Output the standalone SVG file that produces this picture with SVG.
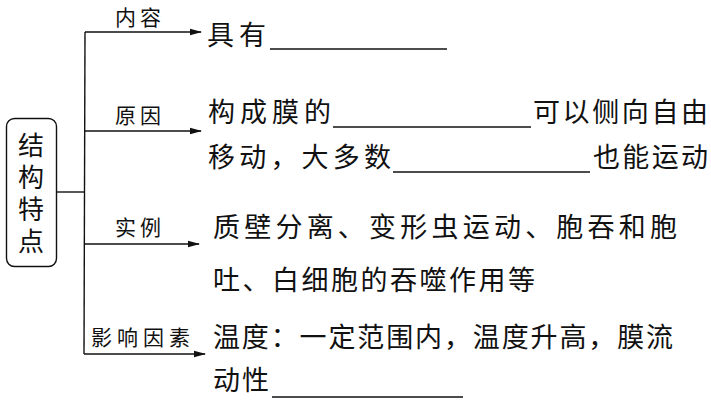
<svg xmlns="http://www.w3.org/2000/svg" width="711" height="401" viewBox="0 0 711 401">
<defs>
<marker id="arr" markerWidth="12" markerHeight="8" refX="11" refY="4" orient="auto" markerUnits="userSpaceOnUse">
<path d="M0,0.8 L12,4 L0,7.2 Z" fill="#111"/>
</marker>
<style>
text{font-family:"Noto Sans CJK SC","Noto Sans CJK JP",sans-serif;fill:#111}
.main{font-size:27px}
.lbl{font-size:21px;letter-spacing:4px}
.box{font-size:26px;letter-spacing:6px;writing-mode:vertical-rl}
.ln{stroke:#111;stroke-width:1.4;fill:none}
.ul{stroke:#111;stroke-width:1.5}
</style>
</defs>
<rect width="711" height="401" fill="#fff"/>
<g id="root">
<rect x="6.5" y="118.5" width="50" height="148" rx="8" ry="8" fill="none" stroke="#111" stroke-width="1.4"/>
<text class="box" x="31" y="132">结构特点</text>
</g>
<g id="connectors">
<line class="ln" x1="57" y1="192" x2="85" y2="192"/>
<line class="ln" x1="85" y1="32" x2="84" y2="354"/>
<line class="ln" x1="85" y1="32" x2="201" y2="32" marker-end="url(#arr)"/>
<line class="ln" x1="85" y1="131" x2="201" y2="131" marker-end="url(#arr)"/>
<line class="ln" x1="84" y1="244" x2="199" y2="244" marker-end="url(#arr)"/>
<line class="ln" x1="84" y1="354" x2="205" y2="354" marker-end="url(#arr)"/>
<text class="lbl" x="115" y="25">内容</text>
<text class="lbl" x="115" y="123">原因</text>
<text class="lbl" x="115" y="235">实例</text>
<text class="lbl" x="91" y="345" style="letter-spacing:5px">影响因素</text>
</g>
<g id="content">
<text class="main" x="207" y="45" textLength="59" lengthAdjust="spacing">具有</text>
<line class="ul" x1="270" y1="49" x2="447" y2="49"/>
</g>
<g id="reason">
<text class="main" x="208" y="122" textLength="123" lengthAdjust="spacing">构成膜的</text>
<line class="ul" x1="333" y1="127" x2="531" y2="127"/>
<text class="main" x="533" y="122" textLength="175" lengthAdjust="spacing">可以侧向自由</text>
<text class="main" x="208" y="167" textLength="183" lengthAdjust="spacing">移动，大多数</text>
<line class="ul" x1="393" y1="172" x2="590" y2="172"/>
<text class="main" x="593" y="167" textLength="115" lengthAdjust="spacing">也能运动</text>
</g>
<g id="example">
<text class="main" x="213" y="237" textLength="464" lengthAdjust="spacing">质壁分离、变形虫运动、胞吞和胞</text>
<text class="main" x="213" y="290" textLength="322" lengthAdjust="spacing">吐、白细胞的吞噬作用等</text>
</g>
<g id="factor">
<text class="main" x="213" y="347" textLength="460" lengthAdjust="spacing">温度：一定范围内，温度升高，膜流</text>
<text class="main" x="213" y="390" textLength="56" lengthAdjust="spacing">动性</text>
<line class="ul" x1="272" y1="397" x2="463" y2="397"/>
</g>
</svg>
